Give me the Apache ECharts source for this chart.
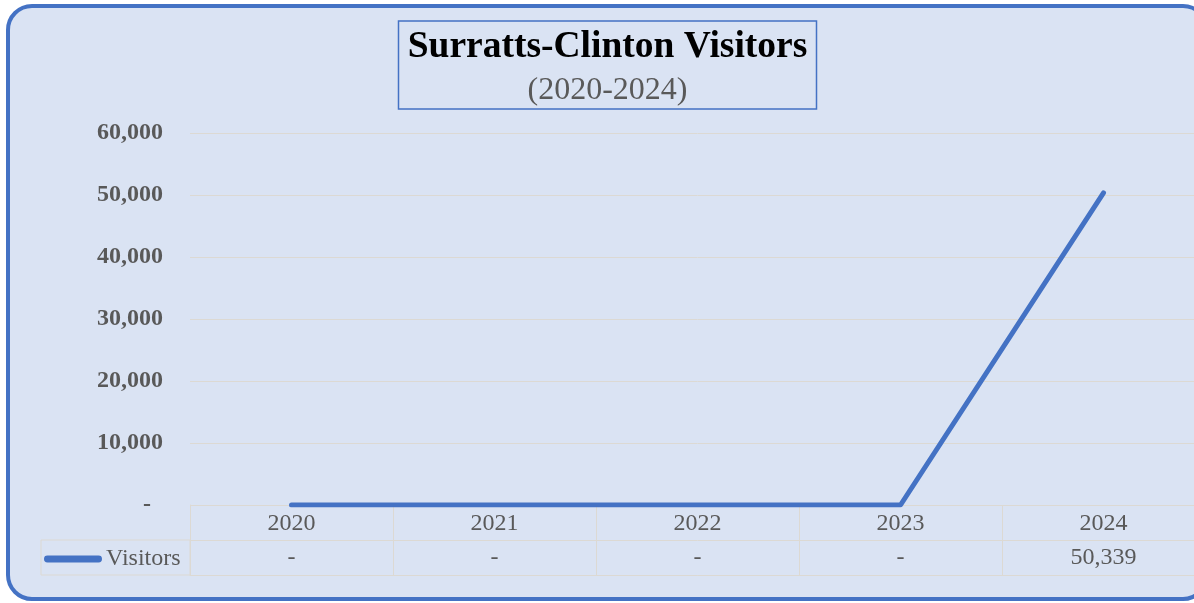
<!DOCTYPE html>
<html>
<head>
<meta charset="utf-8">
<script src="https://cdn.jsdelivr.net/npm/echarts@6/dist/echarts.min.js"></script>
<style>
  html, body { margin: 0; padding: 0; overflow: hidden; background: #ffffff; }
  #frame {
    position: absolute; left: 6px; top: 4px; width: 1203px; height: 597px;
    box-sizing: border-box; border: 4px solid #4472c4; border-radius: 26px;
    background: #dae3f3;
  }
  #main { position: absolute; left: 0; top: 0; width: 1215px; height: 603px; }
</style>
</head>
<body>
<div id="frame"></div>
<div id="main"></div>
<script>
const years = ['2020', '2021', '2022', '2023', '2024']
const visitors = [0, 0, 0, 0, 50339]
const yTicks = { min: 0, max: 60000, interval: 10000 }

const serif = "'Liberation Serif', 'Times New Roman', serif"
const gray = '#595959'
const rule = '#dcd9d3'
const blue = '#4472c4'

const fmt = (v) => v === 0 ? '-' : v.toLocaleString('en-US')

const chart = echarts.init(document.getElementById('main'))
const option = {
  backgroundColor: 'transparent',
  animation: false,
  title: {
    text: 'Surratts-Clinton Visitors',
    subtext: '(2020-2024)',
    left: 'center',
    top: 21,
    padding: [6, 9, 0, 9],
    itemGap: 5,
    borderColor: blue,
    borderWidth: 1.5,
    textStyle: { fontFamily: serif, fontSize: 37.5, fontWeight: 'bold', color: '#000000', lineHeight: 41 },
    subtextStyle: { fontFamily: serif, fontSize: 32, color: gray, lineHeight: 36 }
  },
  legend: {
    data: ['Visitors'],
    left: 44,
    top: 547,
    padding: 0,
    itemWidth: 58,
    itemHeight: 7,
    icon: 'path://M3,0 L55,0 A3.5,3.5 0 0 1 55,7 L3,7 A3.5,3.5 0 0 1 3,0 Z',
    itemStyle: { color: blue },
    textStyle: { fontFamily: serif, fontSize: 24, color: gray, padding: [0, 0, 0, -1] }
  },
  graphic: [{
    type: 'rect',
    shape: { x: 41, y: 540, width: 149, height: 35 },
    style: { fill: 'none', stroke: rule, lineWidth: 1 }
  }],
  grid: [
    { left: 190, right: 10, top: 133, height: 372 },
    { left: 190, right: 10, top: 505, height: 70 }
  ],
  xAxis: [{
    type: 'category',
    gridIndex: 0,
    data: years,
    boundaryGap: true,
    axisLine: { show: false },
    axisTick: { show: false },
    axisLabel: { fontFamily: serif, fontSize: 24, color: gray, margin: 7 }
  }, {
    type: 'category',
    gridIndex: 0,
    position: 'bottom',
    offset: 35,
    data: years,
    boundaryGap: true,
    axisLine: { show: false },
    axisTick: { show: false },
    axisLabel: {
      fontFamily: serif, fontSize: 24, color: gray, margin: 6,
      formatter: (v, i) => fmt(visitors[i])
    }
  }, {
    type: 'category',
    gridIndex: 1,
    data: years,
    boundaryGap: true,
    axisLine: { show: true, lineStyle: { color: rule } },
    axisTick: { show: false },
    axisLabel: { show: false },
    splitLine: { show: true, lineStyle: { color: rule } }
  }],
  yAxis: [{
    type: 'value',
    gridIndex: 0,
    min: yTicks.min,
    max: yTicks.max,
    interval: yTicks.interval,
    axisLine: { show: false },
    axisTick: { show: false },
    axisLabel: {
      fontFamily: serif, fontSize: 24, fontWeight: 'bold', color: gray, margin: 27,
      formatter: (v) => v === 0 ? '-\u2007' : v.toLocaleString('en-US')
    },
    splitLine: {
      show: true,
      showMinLine: false,
      lineStyle: { color: rule, width: 1 }
    }
  }, {
    type: 'category',
    gridIndex: 1,
    data: ['header', 'values'],
    inverse: true,
    boundaryGap: true,
    axisLine: { show: true, lineStyle: { color: rule } },
    axisTick: { show: false },
    axisLabel: { show: false },
    splitLine: { show: true, lineStyle: { color: rule } }
  }],
  series: [{
    name: 'Visitors',
    type: 'line',
    xAxisIndex: 0,
    yAxisIndex: 0,
    data: visitors,
    symbol: 'none',
    itemStyle: { color: blue },
    lineStyle: { color: blue, width: 5, cap: 'round', join: 'round' }
  }]
}
chart.setOption(option)
</script>
</body>
</html>
